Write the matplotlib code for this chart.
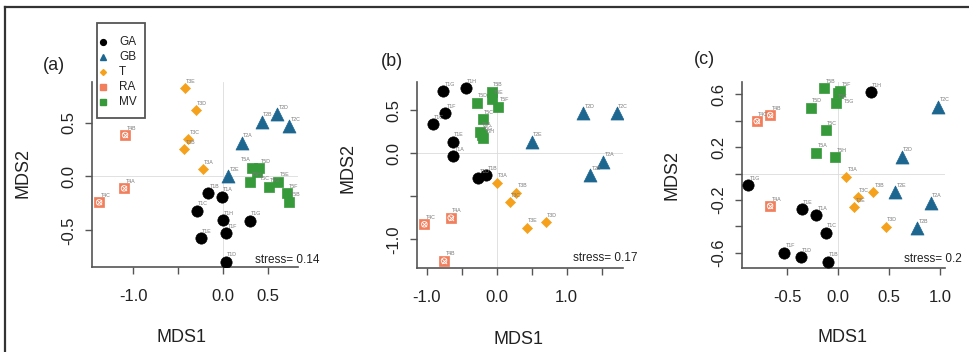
import matplotlib
matplotlib.use("Agg")
import matplotlib.pyplot as plt
from matplotlib.lines import Line2D
from matplotlib.patches import Rectangle

plt.rcParams['font.family'] = ['Liberation Sans', 'DejaVu Sans']

#%% Data

samples = ['T1A', 'T1B', 'T1C', 'T1D', 'T1E', 'T1F', 'T1G', 'T1H',
           'T2A', 'T2B', 'T2C', 'T2D', 'T2E',
           'T3A', 'T3B', 'T3C', 'T3D', 'T3E',
           'T4A', 'T4B', 'T4C',
           'T5A', 'T5B', 'T5C', 'T5D', 'T5E', 'T5F', 'T5G', 'T5H']
groups = ['GA'] * 8 + ['GB'] * 5 + ['T'] * 5 + ['RA'] * 3 + ['MV'] * 8
group_order = ['GA', 'GB', 'T', 'RA', 'MV']

# panel (a)
mds1_a = [-0.018, -0.166, -0.296, 0.03, -0.251, 0.03, 0.297, -0.007,
          0.204, 0.427, 0.733, 0.60, 0.056,
          -0.229, -0.437, -0.389, -0.307, -0.426,
          -1.103, -1.092, -1.38,
          0.315, 0.733, 0.37, 0.40, 0.61, 0.71, 0.51, 0.30]
mds2_a = [-0.187, -0.156, -0.317, -0.791, -0.574, -0.527, -0.41, -0.404,
          0.314, 0.509, 0.469, 0.577, 0.0,
          0.067, 0.252, 0.348, 0.617, 0.819,
          -0.11, 0.385, -0.24,
          0.076, -0.234, 0.045, 0.076, -0.048, -0.156, -0.10, -0.048]

# panel (b)
mds1_b = [-0.62, -0.153, -0.914, -0.263, -0.629, -0.739, -0.763, -0.439,
          1.523, 1.333, 1.714, 1.237, 0.50,
          0.0, 0.276, 0.19, 0.704, 0.428,
          -0.657, -0.753, -1.034,
          -0.239, -0.071, -0.2, -0.286, -0.062, 0.023, -0.215, -0.19]
mds2_b = [-0.031, -0.252, 0.336, -0.29, 0.135, 0.464, 0.723, 0.754,
          -0.097, -0.252, 0.464, 0.464, 0.135,
          -0.341, -0.457, -0.568, -0.80, -0.863,
          -0.747, -1.246, -0.824,
          0.251, 0.715, 0.394, 0.587, 0.626, 0.541, 0.21, 0.174]

# panel (c)
mds1_c = [-0.219, -0.105, -0.121, -0.367, -0.36, -0.531, -0.885, 0.318,
          0.908, 0.777, 0.983, 0.623, 0.558,
          0.076, 0.344, 0.19, 0.469, 0.154,
          -0.671, -0.671, -0.802,
          -0.219, -0.141, -0.121, -0.272, -0.023, 0.017, 0.0, -0.032]
mds2_c = [-0.314, -0.667, -0.448, -0.634, -0.27, -0.599, -0.086, 0.616,
          -0.22, -0.414, 0.507, 0.128, -0.142,
          -0.023, -0.142, -0.18, -0.402, -0.255,
          -0.245, 0.444, 0.398,
          0.158, 0.646, 0.33, 0.499, 0.532, 0.626, 0.608, 0.123]

stress = [0.14, 0.17, 0.2]
panel_names = ['(a)', '(b)', '(c)']

# tick positions and labels ('' = unlabelled tick, as in the original)
xticks = [[-1.0, -0.5, 0.0, 0.5], [-1.0, -0.5, 0.0, 0.5, 1.0, 1.5], [-0.5, 0.0, 0.5, 1.0]]
xticklabels = [['-1.0', '', '0.0', '0.5'], ['-1.0', '', '0.0', '', '1.0', ''], ['-0.5', '0.0', '0.5', '1.0']]
yticks = [[-0.5, 0.0, 0.5], [-1.0, -0.5, 0.0, 0.5], [-0.6, -0.4, -0.2, 0.0, 0.2, 0.4, 0.6]]
yticklabels = [['-0.5', '0.0', '0.5'], ['-1.0', '', '0.0', '0.5'], ['-0.6', '', '-0.2', '', '0.2', '', '0.6']]

#%% Styles
style = {
    'GA': dict(marker='o', color='black', s=66),
    'GB': dict(marker='^', color='#1d6690', s=88),
    'T':  dict(marker='D', color='#f5a11c', s=26),
    'RA': dict(marker='s', color='#f27e5c', s=48),
    'MV': dict(marker='s', color='#36993a', s=52),
}
legend_ms = {'GA': 4.2, 'GB': 4.4, 'T': 3.0, 'RA': 4.2, 'MV': 4.2}

# point-label offsets (points); a few are nudged so they do not sit on each other
label_offset = (4.5, 5)
label_nudge = {(0, 'T5A'): (-4, 6), (0, 'T5C'): (6, -5), (2, 'T5G'): (8, -6)}

#%% Figure
W, H = 970, 352
fig = plt.figure(figsize=(W / 100, H / 100), dpi=100)

def fx(px):
    return px / W

def fy(py):
    return 1 - py / H

# axes boxes in pixels: left, bottom(from top), right, top(from top)
boxes = [(92, 267, 298, 82), (417, 268, 623, 82), (742, 268, 945, 82)]
xlims = [(-1.459, 0.83), (-1.139, 1.804), (-0.947, 1.048)]
ylims = [(-0.84, 0.877), (-1.331, 0.827), (-0.715, 0.694)]
coords = [(mds1_a, mds2_a), (mds1_b, mds2_b), (mds1_c, mds2_c)]

panel_lab_xy = [(54, 66), (392, 62), (704, 60)]
mds2_xy = [(23, 173), (348, 168), (672, 175)]
mds1_xy = [(182, 337), (519, 340), (843, 337)]
stress_xy = [(320, 260), (638, 258), (962, 259)]

for i in range(3):
    l, b, r, t = boxes[i]
    ax = fig.add_axes([fx(l), fy(b), (r - l) / W, (b - t) / H])
    ax.set_xlim(*xlims[i])
    ax.set_ylim(*ylims[i])

    ax.axhline(0, color='#dcdcdc', lw=0.6, zorder=0)
    ax.axvline(0, color='#dcdcdc', lw=0.6, zorder=0)

    xs, ys = coords[i]
    for g in group_order:
        gx = [x for x, gg in zip(xs, groups) if gg == g]
        gy = [y for y, gg in zip(ys, groups) if gg == g]
        st = style[g]
        ax.scatter(gx, gy, marker=st['marker'], s=st['s'], c=st['color'],
                   edgecolors=st['color'], linewidths=0.5, zorder=3)
        if g == 'RA':
            ax.scatter(gx, gy, marker='o', s=16, facecolors='none',
                       edgecolors='white', linewidths=0.6, zorder=4)
            ax.scatter(gx, gy, marker='x', s=14, c='white', linewidths=0.6, zorder=4)

    for name, x, y in zip(samples, xs, ys):
        off = label_nudge.get((i, name), label_offset)
        ax.annotate(name, (x, y), xytext=off, textcoords='offset points',
                    ha='center', va='center', fontsize=3.8, color='#7a7a7a', zorder=5)

    for side in ['top', 'right']:
        ax.spines[side].set_visible(False)
    for side in ['left', 'bottom']:
        ax.spines[side].set_color('#555555')
        ax.spines[side].set_linewidth(1.2)

    ax.set_xticks(xticks[i])
    ax.set_xticklabels(xticklabels[i])
    ax.set_yticks(yticks[i])
    ax.set_yticklabels(yticklabels[i], rotation=90, va='center')
    ax.tick_params(axis='both', direction='out', length=5, width=1.0,
                   color='#555555', labelsize=12, labelcolor='#222222')
    ax.tick_params(axis='x', pad=11)
    ax.tick_params(axis='y', pad=6)
    ax.set_facecolor('none')

    fig.text(fx(panel_lab_xy[i][0]), fy(panel_lab_xy[i][1]), panel_names[i],
             fontsize=13, ha='center', va='center', color='#222222')
    fig.text(fx(mds2_xy[i][0]), fy(mds2_xy[i][1]), 'MDS2', rotation=90,
             fontsize=13, ha='center', va='center', color='#222222')
    fig.text(fx(mds1_xy[i][0]), fy(mds1_xy[i][1]), 'MDS1',
             fontsize=13, ha='center', va='center', color='#222222')
    fig.text(fx(stress_xy[i][0]), fy(stress_xy[i][1]), 'stress= %g' % stress[i],
             fontsize=8.5, ha='right', va='center', color='#222222')

# legend of panel (a), drawn by hand so that it sits where the original has it
fig.add_artist(Rectangle((fx(97), fy(118)), (145 - 97) / W, (118 - 23) / H,
                         transform=fig.transFigure, facecolor='white',
                         edgecolor='#555555', lw=1.3, zorder=10))
for k, g in enumerate(group_order):
    row_y = 42 + 15 * k
    fig.add_artist(Line2D([fx(103.5)], [fy(row_y)], transform=fig.transFigure, ls='none',
                          marker=style[g]['marker'], color=style[g]['color'],
                          ms=legend_ms[g], zorder=11))
    fig.text(fx(119), fy(row_y), g, fontsize=8.5, ha='left', va='center',
             color='#222222', zorder=11)

# outer frame of the figure panel (left and top edges visible)
fig.add_artist(Line2D([fx(5.5), fx(5.5)], [0, fy(7)], transform=fig.transFigure,
                      color='#333333', lw=1.6))
fig.add_artist(Line2D([fx(5.5), 1], [fy(7), fy(7)], transform=fig.transFigure,
                      color='#333333', lw=1.6))

fig.savefig('out.png', dpi=100)
